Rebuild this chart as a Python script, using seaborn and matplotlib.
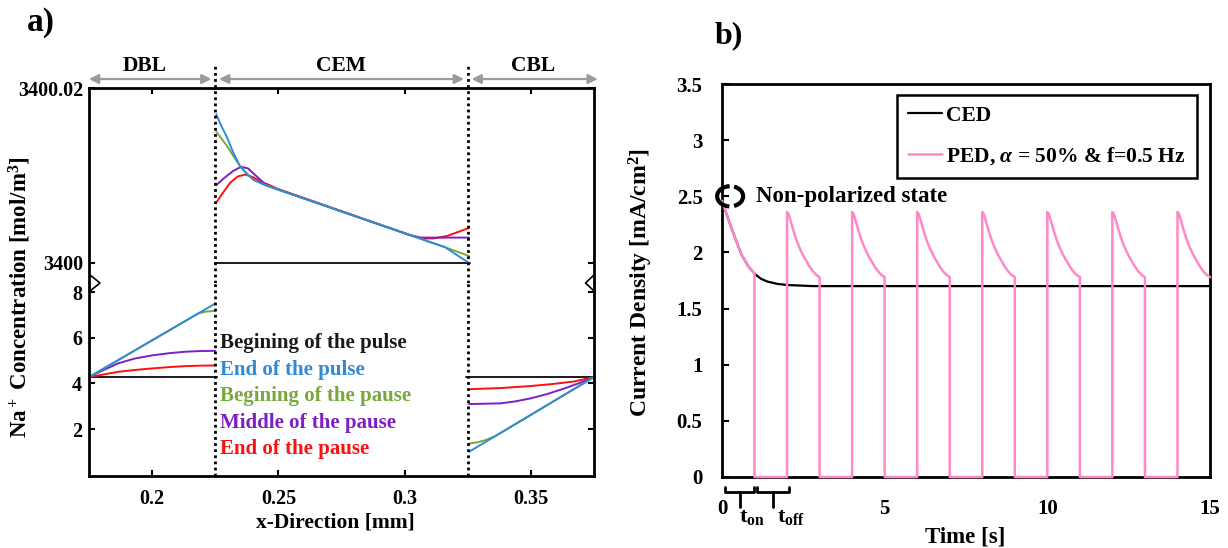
import matplotlib
matplotlib.use("Agg")
import matplotlib.pyplot as plt
import seaborn as sns
from matplotlib.lines import Line2D
from matplotlib.patches import Arc

sns.set_theme(style="white")
plt.rcParams["font.family"] = ["Liberation Serif", "DejaVu Serif"]
plt.rcParams["font.weight"] = "bold"
plt.rcParams["axes.labelweight"] = "bold"
plt.rcParams["mathtext.fontset"] = "custom"
plt.rcParams["mathtext.rm"] = "Liberation Serif:bold"
plt.rcParams["mathtext.it"] = "Liberation Serif:italic:bold"
plt.rcParams["mathtext.bf"] = "Liberation Serif:bold"
for key in ("text.color", "axes.labelcolor", "xtick.color", "ytick.color", "axes.edgecolor"):
    plt.rcParams[key] = "black"

# ---------------- panel a: Na+ concentration profiles ----------------
series_names = ["Begining of the pulse", "End of the pulse", "Begining of the pause",
                "Middle of the pause", "End of the pause"]
series_colors = ["#1a1a1a", "#2f8ad8", "#77a83c", "#7d1fc4", "#ff1010"]

# diffusion boundary layer (DBL), mol/m3
dbl_x = {
    "begin_pulse": [0.175, 0.2258],
    "end_pulse": [0.175, 0.225],
    "begin_pause": [0.175, 0.2183, 0.2215, 0.225],
    "mid_pause": [0.175, 0.180, 0.1865, 0.193, 0.200, 0.207, 0.213, 0.219, 0.225],
    "end_pause": [0.175, 0.180, 0.1865, 0.193, 0.200, 0.207, 0.213, 0.219, 0.225],
}
dbl_c = {
    "begin_pulse": [4.28, 4.28],
    "end_pulse": [4.28, 7.50],
    "begin_pause": [4.28, 7.07, 7.15, 7.18],
    "mid_pause": [4.28, 4.55, 4.88, 5.09, 5.23, 5.33, 5.39, 5.42, 5.43],
    "end_pause": [4.28, 4.38, 4.51, 4.59, 4.66, 4.72, 4.76, 4.78, 4.79],
}

# cation exchange membrane (CEM), mol/m3
cem_x = {
    "begin_pulse": [0.225, 0.3258],
    "end_pulse": [0.2254, 0.2275, 0.2296, 0.2320, 0.2349, 0.2375, 0.2402, 0.2448, 0.305, 0.316, 0.3255],
    "begin_pause": [0.2254, 0.2296, 0.2320, 0.2343, 0.2375, 0.2402, 0.2448, 0.305, 0.316, 0.3255],
    "mid_pause": [0.2254, 0.2285, 0.2320, 0.2352, 0.2380, 0.2410, 0.2448, 0.2468, 0.302, 0.306, 0.3255],
    "end_pause": [0.2254, 0.2280, 0.2310, 0.2340, 0.2369, 0.2400, 0.2429, 0.2465, 0.2495, 0.302,
                  0.3075, 0.3115, 0.317, 0.3255],
}
cem_c = {
    "begin_pulse": [3400.0, 3400.0],
    "end_pulse": [3400.0170, 3400.0156, 3400.0144, 3400.0127, 3400.0110, 3400.0102, 3400.0095,
                  3400.0089, 3400.0029, 3400.0018, 3400.0000],
    "begin_pause": [3400.0150, 3400.0134, 3400.0123, 3400.0113, 3400.0102, 3400.0095, 3400.0089,
                    3400.0029, 3400.0018, 3400.0008],
    "mid_pause": [3400.0089, 3400.0097, 3400.0105, 3400.0110, 3400.0108, 3400.0100, 3400.0090,
                  3400.0087, 3400.0032, 3400.0029, 3400.0029],
    "end_pause": [3400.0069, 3400.0080, 3400.0092, 3400.0099, 3400.0101, 3400.0098, 3400.0093,
                  3400.0089, 3400.0085, 3400.0032, 3400.0028, 3400.0028, 3400.0031, 3400.0040],
}

# concentrate boundary layer (CBL), mol/m3
cbl_x = {
    "begin_pulse": [0.3245, 0.375],
    "end_pulse": [0.3255, 0.375],
    "begin_pause": [0.3255, 0.329, 0.332, 0.336, 0.375],
    "mid_pause": [0.3255, 0.338, 0.344, 0.350, 0.3565, 0.3632, 0.369, 0.375],
    "end_pause": [0.3255, 0.338, 0.350, 0.358, 0.3672, 0.375],
}
cbl_c = {
    "begin_pulse": [4.28, 4.28],
    "end_pulse": [1.01, 4.28],
    "begin_pause": [1.37, 1.43, 1.52, 1.70, 4.28],
    "mid_pause": [3.10, 3.13, 3.22, 3.35, 3.54, 3.78, 4.01, 4.28],
    "end_pause": [3.75, 3.80, 3.89, 3.97, 4.09, 4.28],
}
series_keys = ["begin_pulse", "end_pulse", "begin_pause", "mid_pause", "end_pause"]
# drawing order: the end-of-pulse profile sits on top
draw_order = [0, 4, 3, 2, 1]

region_names = ["DBL", "CEM", "CBL"]
region_bounds = [(0.175, 0.2235), (0.2265, 0.3235), (0.3265, 0.3765)]
region_label_x = [0.197, 0.2746, 0.351]
interfaces = [0.225, 0.325]

x_ticks = [0.2, 0.25, 0.3, 0.35]
x_tick_labels = ["0.2", "0.25", "0.3", "0.35"]
upper_ticks = [3400.0, 3400.02]
upper_tick_labels = ["3400", "3400.02"]
lower_ticks = [2, 4, 6, 8]
lower_tick_labels = ["2", "4", "6", "8"]

# ---------------- panel b: current density ----------------
ced_t = [0, 0.2, 0.4, 0.6, 0.8, 1.0, 1.2, 1.4, 1.7, 2.0, 2.4, 2.8, 3.2, 15]
ced_j = [2.46, 2.29, 2.13, 1.98, 1.88, 1.81, 1.765, 1.74, 1.72, 1.71, 1.705, 1.70, 1.70, 1.70]

first_pulse_t = [0, 0.2, 0.4, 0.6, 0.8, 1.0]
first_pulse_j = [2.46, 2.29, 2.13, 1.98, 1.88, 1.81]
pulse_offset = [0, 0.05, 0.1, 0.2, 0.3, 0.4, 0.5, 0.6, 0.7, 0.8, 0.9, 1.0]
pulse_j = [2.36, 2.34, 2.29, 2.19, 2.10, 2.03, 1.97, 1.92, 1.87, 1.83, 1.80, 1.78]
pulse_starts = [2, 4, 6, 8, 10, 12, 14]
t_end = 15

ped_t = list(first_pulse_t) + [first_pulse_t[-1]]
ped_j = list(first_pulse_j) + [0.0]
for s in pulse_starts:
    ped_t += [s] + [s + o for o in pulse_offset]
    ped_j += [0.0] + list(pulse_j)
    if s + 1 < t_end:
        ped_t.append(s + 1)
        ped_j.append(0.0)

b_yticks = [0, 0.5, 1, 1.5, 2, 2.5, 3, 3.5]
b_ytick_labels = ["0", "0.5", "1", "1.5", "2", "2.5", "3", "3.5"]
b_xticks = [0, 5, 10, 15]
b_xtick_labels = ["0", "5", "10", "15"]

W, H = 1228, 548
fig = plt.figure(figsize=(W / 100, H / 100), dpi=100)


def fx(px):
    return px / W


def fy(py):
    return 1 - py / H


ax_top = fig.add_axes([fx(89), fy(283), fx(594) - fx(89), fy(88) - fy(283)])
ax_bot = fig.add_axes([fx(89), fy(476), fx(594) - fx(89), fy(283) - fy(476)])
ax_b = fig.add_axes([fx(722), fy(477), fx(1210) - fx(722), fy(84) - fy(477)])

LW = 1.4
for i in draw_order:
    key, col = series_keys[i], series_colors[i]
    sns.lineplot(x=dbl_x[key], y=dbl_c[key], ax=ax_bot, color=col, lw=LW,
                 estimator=None, sort=False, legend=False)
    sns.lineplot(x=cbl_x[key], y=cbl_c[key], ax=ax_bot, color=col, lw=LW,
                 estimator=None, sort=False, legend=False)
    sns.lineplot(x=cem_x[key], y=cem_c[key], ax=ax_top, color=col, lw=LW,
                 estimator=None, sort=False, legend=False)

for ax in (ax_top, ax_bot):
    ax.set_xlim(0.175, 0.375)
    for sp in ax.spines.values():
        sp.set_linewidth(2)
        sp.set_color("black")
    ax.set_xlabel("")
    ax.set_ylabel("")

ax_top.set_ylim(3399.99771, 3400.02)
ax_bot.set_ylim(-0.05, 8.4)
ax_top.spines["bottom"].set_visible(False)
ax_bot.spines["top"].set_visible(False)

ax_top.set_xticks(x_ticks)
ax_top.set_yticks(upper_ticks, upper_tick_labels)
ax_top.tick_params(direction="in", length=4, width=1.5, top=True, bottom=False, left=True,
                   right=True, labelbottom=False, labelsize=14.5, pad=4)
ax_bot.set_xticks(x_ticks, x_tick_labels)
ax_bot.set_yticks(lower_ticks, lower_tick_labels)
ax_bot.tick_params(direction="in", length=4, width=1.5, top=False, bottom=True, left=True,
                   right=True, labelsize=14.5, pad=5)
ax_bot.tick_params(axis="x", pad=9)

dot = (0, (1, 1.2))
for xb in interfaces:
    ax_bot.axvline(xb, ymin=0, ymax=1, color="black", lw=2, ls=dot, zorder=5)
    ax_top.axvline(xb, ymin=0, ymax=1.13, color="black", lw=2, ls=dot, zorder=5, clip_on=False)

xt = ax_top.get_xaxis_transform()
for name, (x0, x1), xl in zip(region_names, region_bounds, region_label_x):
    ax_top.annotate("", xy=(x1, 1.046), xytext=(x0, 1.046), xycoords=xt, textcoords=xt,
                    arrowprops=dict(arrowstyle="<|-|>", color="#9a9a9a", lw=1.6,
                                    shrinkA=0, shrinkB=0, mutation_scale=14))
    ax_top.text(xl, 1.113, name, transform=xt, ha="center", va="center", fontsize=15.5)

legend_y = [5.77, 4.59, 3.45, 2.26, 1.13]
for name, col, yy in zip(series_names, series_colors, legend_y):
    ax_bot.text(0.2268, yy, name, color=col, ha="left", va="center", fontsize=15, zorder=6)

# axis-break marks
fig.add_artist(Line2D([fx(90), fx(100), fx(90)], [fy(275), fy(283), fy(291)],
                      transform=fig.transFigure, color="black", lw=1.2))
fig.add_artist(Line2D([fx(594), fx(585.5), fx(594)], [fy(275), fy(283), fy(291)],
                      transform=fig.transFigure, color="black", lw=1.2))

fig.text(fx(20), fy(297), "Na$^+$ Concentration [mol/m$^3$]", rotation=90,
         ha="center", va="center", fontsize=16.5)
ax_bot.set_xlabel("x-Direction [mm]", fontsize=15.5, va="center")
ax_bot.xaxis.set_label_coords((335 - 89) / 505, (476 - 523) / 193)
fig.text(fx(41), fy(22), "a)", ha="center", va="center", fontsize=24)
fig.text(fx(729), fy(36), "b)", ha="center", va="center", fontsize=23)

# ---------------- panel b drawing ----------------
sns.lineplot(x=ced_t, y=ced_j, ax=ax_b, color="black", lw=1.6, estimator=None,
             sort=False, label="CED", zorder=3)
sns.lineplot(x=ped_t, y=ped_j, ax=ax_b, color="#ff88c8", lw=1.8, estimator=None,
             sort=False, label=r"PED, $\alpha$ = 50% & f=0.5 Hz", zorder=4, clip_on=False)
ax_b.set_xlim(0, 15)
ax_b.set_ylim(0, 3.5)
for sp in ax_b.spines.values():
    sp.set_linewidth(2)
    sp.set_color("black")
ax_b.set_xticks(b_xticks, b_xtick_labels)
ax_b.set_yticks(b_yticks, b_ytick_labels)
ax_b.tick_params(axis="y", direction="in", length=5, width=1.5, left=True, labelsize=15, pad=14)
ax_b.tick_params(axis="x", direction="in", length=0, bottom=True, labelsize=15, pad=16)
ax_b.set_ylabel("Current Density [mA/cm$^2$]", fontsize=17, va="center")
ax_b.yaxis.set_label_coords((641 - 722) / 488, 0.494)
ax_b.set_xlabel("Time [s]", fontsize=16.5, va="center")
ax_b.xaxis.set_label_coords(0.498, (477 - 537) / 393)

leg = ax_b.legend(loc="upper right", bbox_to_anchor=(0.973, 0.972), fontsize=15.5,
                  frameon=True, fancybox=False, edgecolor="black", framealpha=1,
                  handlelength=1.6, handletextpad=0.2, labelspacing=0.9,
                  borderpad=0.5, borderaxespad=0)
leg.get_frame().set_linewidth(1.8)

# non-polarized marker
ax_b.add_patch(Arc((0.25, 2.50), 0.8, 0.18, theta1=100, theta2=255, color="black",
                   lw=3, clip_on=False, zorder=6))
ax_b.add_patch(Arc((0.25, 2.50), 0.8, 0.18, theta1=-35, theta2=35, color="black",
                   lw=3, clip_on=False, zorder=6))
ax_b.text(1.05, 2.50, "Non-polarized state", ha="left", va="center", fontsize=16.5)

# t_on / t_off brackets
for (b0, b1, stem), lab, tx in zip([(0.10, 0.98, 0.55), (1.08, 2.06, 1.57)],
                                   [r"t$_{\mathrm{on}}$", r"t$_{\mathrm{off}}$"], [0.53, 1.70]):
    ax_b.plot([b0, b0, b1, b1], [-0.085, -0.13, -0.13, -0.085], color="black", lw=2,
              clip_on=False)
    ax_b.plot([stem, stem], [-0.13, -0.27], color="black", lw=2, clip_on=False)
    ax_b.text(tx, -0.36, lab, ha="left", va="center", fontsize=16)

fig.savefig("out.png", dpi=100)
